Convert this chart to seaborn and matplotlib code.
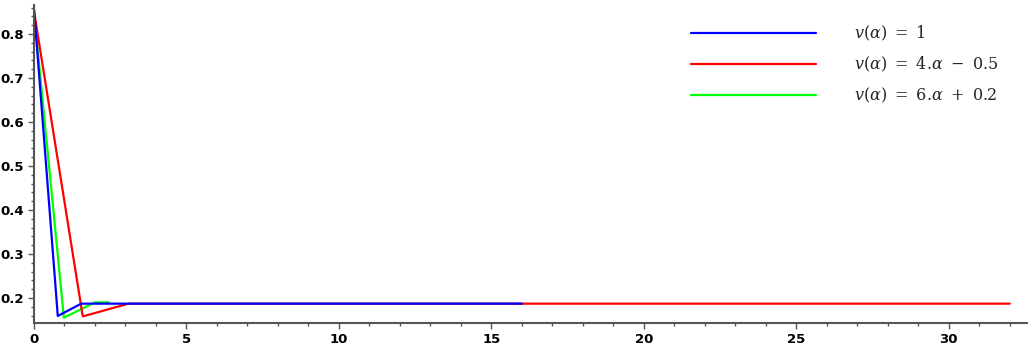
import pandas as pd
import matplotlib
matplotlib.use("Agg")
import matplotlib.pyplot as plt
import seaborn as sns
from matplotlib.ticker import MultipleLocator

# points
blue_x = [0, 0.78, 1.55, 16]
blue_y = [0.857, 0.159, 0.187, 0.187]
red_x = [0, 1.6, 3.1, 32]
red_y = [0.852, 0.158, 0.187, 0.187]
green_x = [0, 0.98, 2.0, 2.45]
green_y = [0.85, 0.155, 0.19, 0.19]

labels = [r"$v(\alpha)\ =\ 1$", r"$v(\alpha)\ =\ 4.\!\alpha\ -\ 0.5$", r"$v(\alpha)\ =\ 6.\!\alpha\ +\ 0.2$"]
colors = ["#0000ff", "#ff0000", "#00ff00"]

sns.set_style("white")
plt.rcParams["mathtext.fontset"] = "dejavuserif"

fig = plt.figure(figsize=(10.28, 3.49), dpi=100)
ax = fig.add_axes([34 / 1028, 1 - 323 / 349, 1 - 34 / 1028, 318 / 349])

df_g = pd.DataFrame({"x": green_x, "y": green_y})
df_r = pd.DataFrame({"x": red_x, "y": red_y})
df_b = pd.DataFrame({"x": blue_x, "y": blue_y})

sns.lineplot(data=df_g, x="x", y="y", sort=False, color=colors[2], lw=1.6, ax=ax, label=labels[2])
sns.lineplot(data=df_r, x="x", y="y", sort=False, color=colors[1], lw=1.6, ax=ax, label=labels[1])
sns.lineplot(data=df_b, x="x", y="y", sort=False, color=colors[0], lw=1.6, ax=ax, label=labels[0])

ax.set_xlim(0, 32.6)
ax.set_ylim(0.143, 0.866)
ax.set_xlabel("")
ax.set_ylabel("")

ax.xaxis.set_major_locator(MultipleLocator(5))
ax.xaxis.set_minor_locator(MultipleLocator(1))
ax.yaxis.set_major_locator(MultipleLocator(0.1))
ax.yaxis.set_minor_locator(MultipleLocator(0.02))
ax.set_yticks([0.2, 0.3, 0.4, 0.5, 0.6, 0.7, 0.8])

for s in ["top", "right"]:
    ax.spines[s].set_visible(False)
for s in ["left", "bottom"]:
    ax.spines[s].set_color("#555555")
    ax.spines[s].set_linewidth(1.5)

ax.tick_params(which="both", direction="out", colors="#555555", labelcolor="black", left=True, bottom=True)
ax.tick_params(which="major", length=4, width=1, labelsize=9.5, pad=3)
ax.tick_params(which="minor", length=2.5, width=1)
for t in ax.get_xticklabels() + ax.get_yticklabels():
    t.set_fontweight("bold")

h, l = ax.get_legend_handles_labels()
order = [2, 1, 0]
ax.legend([h[i] for i in order], [l[i] for i in order], loc="upper left",
          bbox_to_anchor=(0.647, 0.985), frameon=False, fontsize=11.5,
          handlelength=7.8, handletextpad=2.4, labelspacing=0.72)

fig.savefig("out.png", dpi=100)
